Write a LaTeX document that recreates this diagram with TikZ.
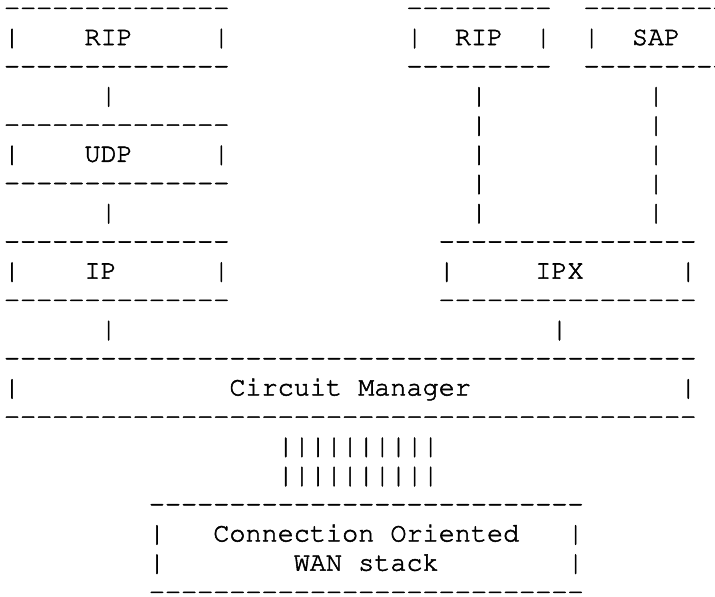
\documentclass[tikz,border=0pt]{standalone}
\usepackage[T1]{fontenc}
\newcommand\asciifont{\fontencoding{T1}\fontfamily{pcr}\fontseries{m}\fontshape{n}\fontsize{20.125pt}{21.9pt}\selectfont\special{pdf:literal direct 2 Tr 0.4 w}}

\begin{document}
\begin{tikzpicture}[x=12.075pt, y=-21.9pt]
  \tikzset{
    chr/.style={anchor=base west, inner sep=0pt, outer sep=0pt, font=\asciifont},
    hchr/.style={chr, text height=0.4em, text depth=-0.15em},
    ascii box/.pic={
      \tikzset{/abox/.cd, #1}
      \foreach \c in {0,...,\boxlast} {
        \node [hchr] (-t\c) at (\c,0) {-};
        \node [hchr] (-b\c) at (\c,\boxrows+1) {-};
      }
      \foreach \r in {1,...,\boxrows} {
        \node [chr] (-l\r) at (0,\r) {|};
        \node [chr] (-r\r) at (\boxlast,\r) {|};
      }
    },
    /abox/.search also={/tikz},
    /abox/.cd,
    last/.store in=\boxlast,
    rows/.store in=\boxrows,
    last=13,
    rows=1
  }

  \useasboundingbox (-0.248,-0.541) rectangle (44.16,19.90);
  \clip (-0.248,-0.541) rectangle (44.16,19.90);

  \pic (ripl) at (0,0) {ascii box={last=13}};
  \node [chr] (ripl-txt) at (5,1) {RIP};

  \pic (udp) at (0,4) {ascii box={last=13}};
  \node [chr] (udp-txt) at (5,5) {UDP};

  \pic (ip) at (0,8) {ascii box={last=13}};
  \node [chr] (ip-txt) at (5,9) {IP};

  \pic (ripr) at (25,0) {ascii box={last=8}};
  \node [chr] (ripr-txt) at (28,1) {RIP};

  \pic (sap) at (36,0) {ascii box={last=8}};
  \node [chr] (sap-txt) at (39,1) {SAP};

  \pic (ipx) at (27,8) {ascii box={last=15}};
  \node [chr] (ipx-txt) at (33,9) {IPX};

  \pic (cm) at (0,12) {ascii box={last=42}};
  \node [chr] (cm-txt) at (14,13) {Circuit Manager};

  \pic (wan) at (9,17) {ascii box={last=26, rows=2}};
  \node [chr] (wan-txt1) at (13,18) {Connection Oriented};
  \node [chr] (wan-txt2) at (18,19) {WAN stack};

  % the links, made of bars
  \node [chr] (ripl-udp) at (6,3) {|};
  \node [chr] (udp-ip) at (6,7) {|};
  \node [chr] (ip-cm) at (6,11) {|};
  \foreach \r in {3,...,7} {
    \node [chr] (ripr-ipx-\r) at (29,\r) {|};
    \node [chr] (sap-ipx-\r) at (40,\r) {|};
  }
  \node [chr] (ipx-cm) at (34,11) {|};
  \foreach \c in {17,...,26} {
    \node [chr] (cm-wan-a\c) at (\c,15) {|};
    \node [chr] (cm-wan-b\c) at (\c,16) {|};
  }
\end{tikzpicture}
\end{document}
